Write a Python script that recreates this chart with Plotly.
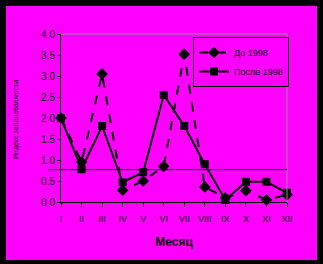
import plotly.graph_objects as go

months = ["I", "II", "III", "IV", "V", "VI", "VII", "VIII", "IX", "X", "XI", "XII"]
before = [2.0, 0.95, 3.05, 0.28, 0.5, 0.85, 3.52, 0.36, 0.1, 0.27, 0.05, 0.17]
after = [2.0, 0.78, 1.81, 0.47, 0.71, 2.55, 1.81, 0.9, 0.05, 0.48, 0.48, 0.22]
names = ["До 1998", "После 1998"]
threshold = 0.77
y_title = "Индекс заболеваемости"
x_title = "Месяц"

MAG = "#FF00FF"
FONT = "Arial, Liberation Sans, sans-serif"
xs = list(range(len(months)))

fig = go.Figure()
fig.add_trace(go.Scatter(
    x=xs, y=before, name=names[0], mode="lines+markers",
    line=dict(color="black", width=2, dash="dash"),
    marker=dict(symbol="diamond", size=9, color="black"),
    cliponaxis=False,
))
fig.add_trace(go.Scatter(
    x=xs, y=after, name=names[1], mode="lines+markers",
    line=dict(color="black", width=2),
    marker=dict(symbol="square", size=8, color="black"),
    cliponaxis=False,
))

shapes = [
    dict(type="rect", xref="paper", yref="paper",
         x0=(6 - 61) / 226, x1=(317 - 61) / 226,
         y0=(202 - 260) / 168, y1=(202 - 6) / 168,
         fillcolor=MAG, line=dict(width=0), layer="below"),
    dict(type="line", xref="paper", yref="paper", x0=0, x1=1, y0=1, y1=1,
         line=dict(color="#909090", width=1)),
    dict(type="line", xref="paper", yref="paper", x0=1, x1=1, y0=0, y1=1,
         line=dict(color="#909090", width=1)),
    dict(type="line", xref="paper", yref="paper", x0=(48 - 61) / 226, x1=1,
         y0=threshold / 4, y1=threshold / 4,
         line=dict(color="black", width=1)),
]

fig.update_layout(
    width=323, height=264,
    margin=dict(l=61, r=36, t=34, b=62),
    paper_bgcolor="black", plot_bgcolor=MAG,
    font=dict(family=FONT, color="black", size=9),
    shapes=shapes,
    showlegend=True,
    legend=dict(
        x=(193 - 61) / 226, y=1 - 3 / 168, xanchor="left", yanchor="top",
        bgcolor=MAG, bordercolor="black", borderwidth=1,
        font=dict(size=9, family=FONT), tracegroupgap=4,
    ),
    annotations=[
        dict(text=y_title, xref="paper", yref="paper",
             x=(16 - 61) / 226, y=(202 - 120) / 168, textangle=-90,
             showarrow=False, font=dict(size=7, family=FONT),
             xanchor="center", yanchor="middle"),
    ],
)
fig.update_xaxes(
    range=[0, 11], tickvals=xs, ticktext=months,
    showgrid=False, zeroline=False,
    showline=True, linecolor="black", linewidth=1,
    ticks="outside", ticklen=4, tickcolor="black",
    ticklabelstandoff=4,
    tickfont=dict(size=9, family=FONT),
    title=dict(text=f"<b>{x_title}</b>", font=dict(size=12, family=FONT), standoff=14),
)
fig.update_yaxes(
    range=[0, 4], dtick=0.5, tickformat=".1f",
    showgrid=False, zeroline=False,
    showline=True, linecolor="black", linewidth=1,
    ticks="outside", ticklen=3, tickcolor="black",
    tickfont=dict(size=10, family=FONT),
)

fig.write_html("out.html")
